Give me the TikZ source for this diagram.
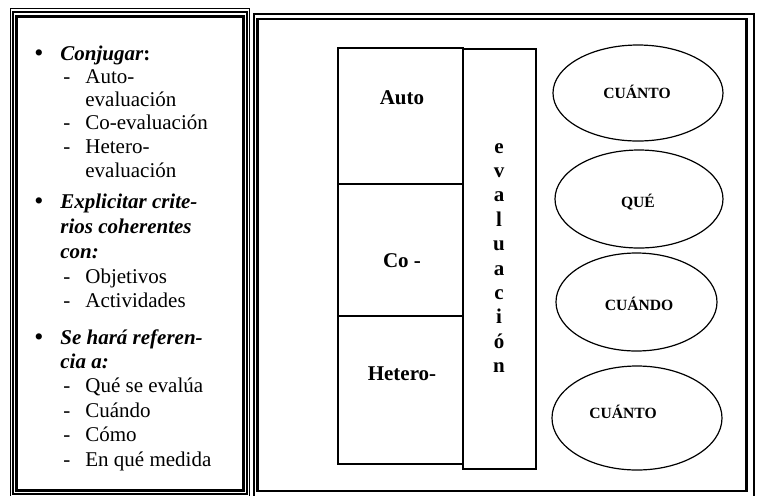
\documentclass[tikz,border=0pt]{standalone}
\usepackage{fontspec}
\setmainfont{Liberation Serif}
\begin{document}
\begin{tikzpicture}[x=0.5pt,y=-0.5pt,
  txt/.style={anchor=base west,inner sep=0pt,font=\fontsize{10.5}{12}\selectfont},
  hd/.style={txt,font=\fontsize{10.5}{12}\selectfont\bfseries\itshape},
  boxline/.style={line width=0.6pt},
  lab/.style={anchor=base,inner sep=0pt,font=\fontsize{10.5}{12}\selectfont\bfseries},
  small/.style={anchor=base,inner sep=0pt,font=\fontsize{7.8}{9}\selectfont\bfseries}]
\clip (0,0) rectangle (757,495);
\draw[line width=0.3pt] (10.5,8.5) rectangle (249.5,497);
\draw[line width=1pt] (13,11.5) rectangle (247,494);
\draw[line width=1.5pt] (16.5,16) rectangle (243,490);
\draw[line width=1pt] (253.5,13.5) rectangle (753.5,497);
\draw[line width=1.2pt] (257.5,19) rectangle (746.5,491);
\foreach \y [count=\i] in {60,208,344} \node[txt,font=\fontsize{13}{12}\selectfont] (b\i) at (34,\y+1) {•};
\node[hd] (h1) at (60,60) {Conjugar\textup{:}};
\node[hd] (h2) at (60,208) {Explicitar crite-};
\node[hd] (h3) at (60,233) {rios coherentes};
\node[hd] (h4) at (60,258) {con:};
\node[hd] (h5) at (60,344) {Se hará referen-};
\node[hd] (h6) at (60,368) {cia a:};
\foreach \y/\t [count=\i] in {83/Auto-,129/Co-evaluación,153/Hetero-,283/Objetivos,307/Actividades,392/Qué se evalúa,417/Cuándo,441/Cómo,466/En qué medida} {
  \node[txt] (d\i) at (63,\y) {-};
  \node[txt] (s\i) at (85,\y) {\t};
}
\node[txt] (e1) at (85,106) {evaluación};
\node[txt] (e2) at (85,177) {evaluación};
\draw[boxline] (338,48) rectangle (463,184);
\draw[boxline] (338,184) rectangle (463,316);
\draw[boxline] (338,316) rectangle (463,464);
\draw[boxline] (463,49) rectangle (536,469);
\node[lab] (auto) at (402,104) {Auto};
\node[lab] (co) at (402,267) {Co -};
\node[lab] (hetero) at (402,380) {Hetero-};
\foreach \l [count=\i] in {e,v,a,l,u,a,c,i,ó,n} \node[lab] (l\i) at (499,153+24.4*\i-24.4) {\l};
\draw[boxline] (638,93) ellipse (85 and 48);
\draw[boxline] (639,199) ellipse (84 and 49);
\draw[boxline] (636.5,302) ellipse (80.5 and 49);
\draw[boxline] (637,418) ellipse (85 and 52);
\node[small] (q1) at (637,98) {CUÁNTO};
\node[small] (q2) at (638,207) {QUÉ};
\node[small] (q3) at (639,310) {CUÁNDO};
\node[small] (q4) at (623,418) {CUÁNTO};
\end{tikzpicture}
\end{document}
